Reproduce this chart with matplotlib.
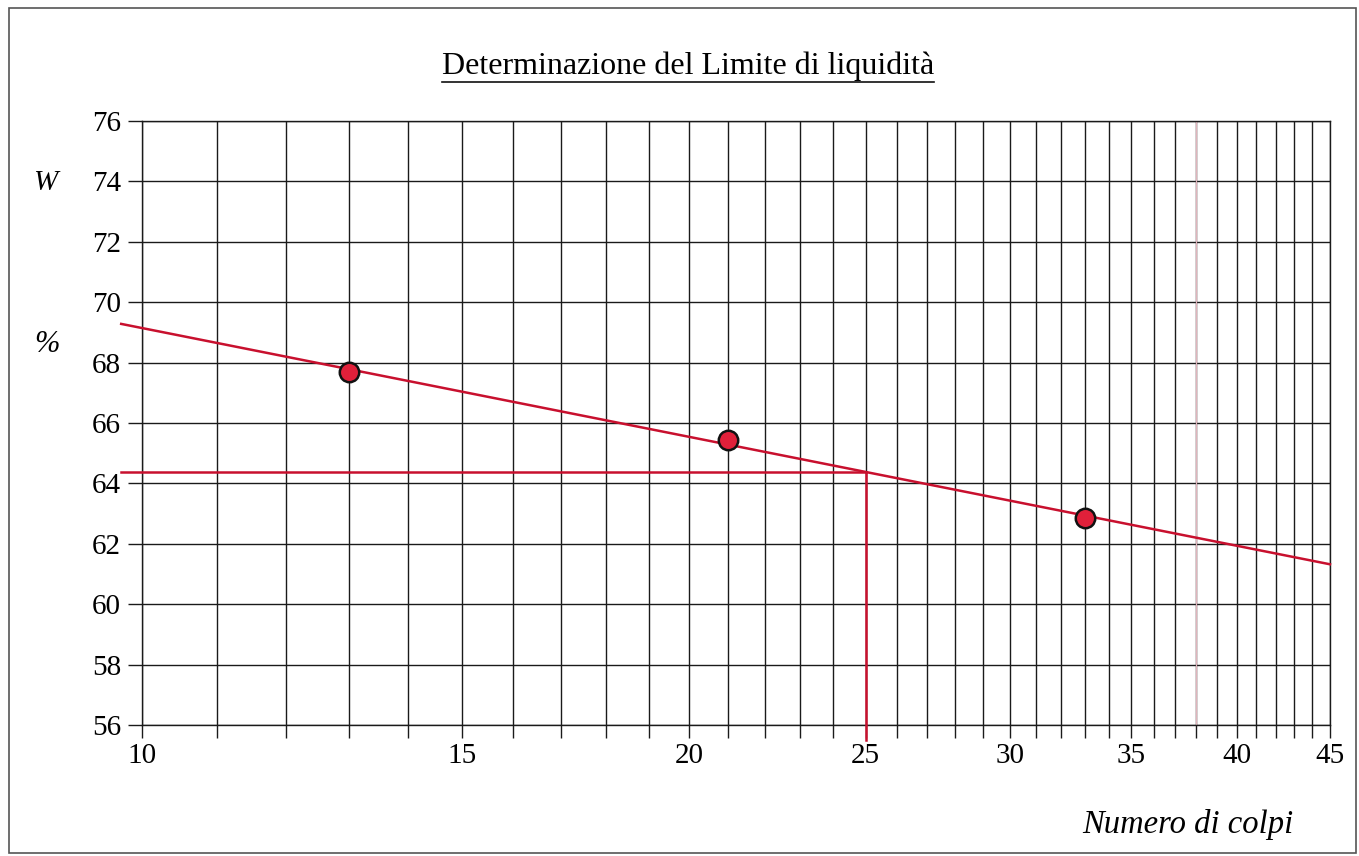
import numpy as np
import matplotlib
matplotlib.use("Agg")
import matplotlib.pyplot as plt
from matplotlib.lines import Line2D
from matplotlib.patches import Rectangle
from matplotlib.ticker import FixedLocator, NullFormatter

# ---- data ----
blows = [13, 21, 33]                 # Numero di colpi
water = [67.7, 65.45, 62.85]         # W %
x_ticks = [10, 15, 20, 25, 30, 35, 40, 45]
x_minor = list(range(10, 46))
y_ticks = list(range(56, 77, 2))
ref_blows = 25
extra_line = 38
fit_range = [9.74, 45]

title = "Determinazione del Limite di liquidità"
xlabel = "Numero di colpi"

plt.rcParams['font.family'] = ['Liberation Serif', 'DejaVu Serif']

fig = plt.figure(figsize=(13.59, 8.56), dpi=100)
ax = fig.add_axes([142/1359, 131/856, (1330-142)/1359, (725-121)/856])
ax.set_xscale('log')
ax.set_xlim(10, 45)
ax.set_ylim(56, 76)

red = '#c8102e'
gridc = '#1a1a1a'

# grid
ax.xaxis.set_major_locator(FixedLocator(x_ticks))
ax.xaxis.set_minor_locator(FixedLocator(x_minor))
ax.xaxis.set_minor_formatter(NullFormatter())
ax.set_xticklabels([str(t) for t in x_ticks])
ax.set_yticks(y_ticks)
ax.grid(True, which='both', axis='x', color=gridc, lw=1.0)
ax.grid(True, which='major', axis='y', color=gridc, lw=1.0)
ax.tick_params(axis='x', which='both', direction='out', length=9, width=1.0,
               color=gridc, labelsize=21, pad=4)
ax.tick_params(axis='y', which='major', direction='out', length=10, width=1.0,
               color=gridc, labelsize=21, pad=5)
for s in ax.spines.values():
    s.set_color(gridc)
    s.set_linewidth(1.0)

# faint reddish line
ax.axvline(extra_line, color='#e0b4bc', lw=0.9, zorder=2.5)

# fit line (semi-log)
coef = np.polyfit(np.log10(blows), water, 1)
xf = np.array(fit_range)
yf = np.polyval(coef, np.log10(xf))
ax.plot(xf, yf, color=red, lw=1.8, clip_on=False, zorder=3)
LL = np.polyval(coef, np.log10(ref_blows))
ax.plot([fit_range[0], ref_blows], [LL, LL], color=red, lw=1.8, clip_on=False, zorder=3)
ax.plot([ref_blows, ref_blows], [LL, 55.5], color=red, lw=1.8, clip_on=False, zorder=3)

# points
ax.plot(blows, water, 'o', ms=14, mfc='#e0203a', mec='#111111', mew=1.8, zorder=4)

# texts
t = fig.text(688/1359, 1-66/856, title, ha='center', va='center', fontsize=23)
fig.text(45/1359, 1-183/856, 'W', ha='center', va='center', fontsize=21, style='italic')
fig.text(47/1359, 1-345/856, '%', ha='center', va='center', fontsize=22, style='italic')
fig.text(1188/1359, 1-824/856, xlabel, ha='center', va='center', fontsize=23.5, style='italic')

# underline title
fig.canvas.draw()
bb = t.get_window_extent(fig.canvas.get_renderer())
yline = (bb.y0 - 1) / fig.bbox.height
fig.add_artist(Line2D([bb.x0/fig.bbox.width, bb.x1/fig.bbox.width], [yline, yline],
                      color='#111111', lw=1.2, transform=fig.transFigure))

# outer frame
fig.add_artist(Rectangle((9/1359, 3/856), (1356-9)/1359, (848-3)/856, fill=False,
                         ec='#555555', lw=1.2, transform=fig.transFigure))

fig.savefig('out.png', dpi=100)
